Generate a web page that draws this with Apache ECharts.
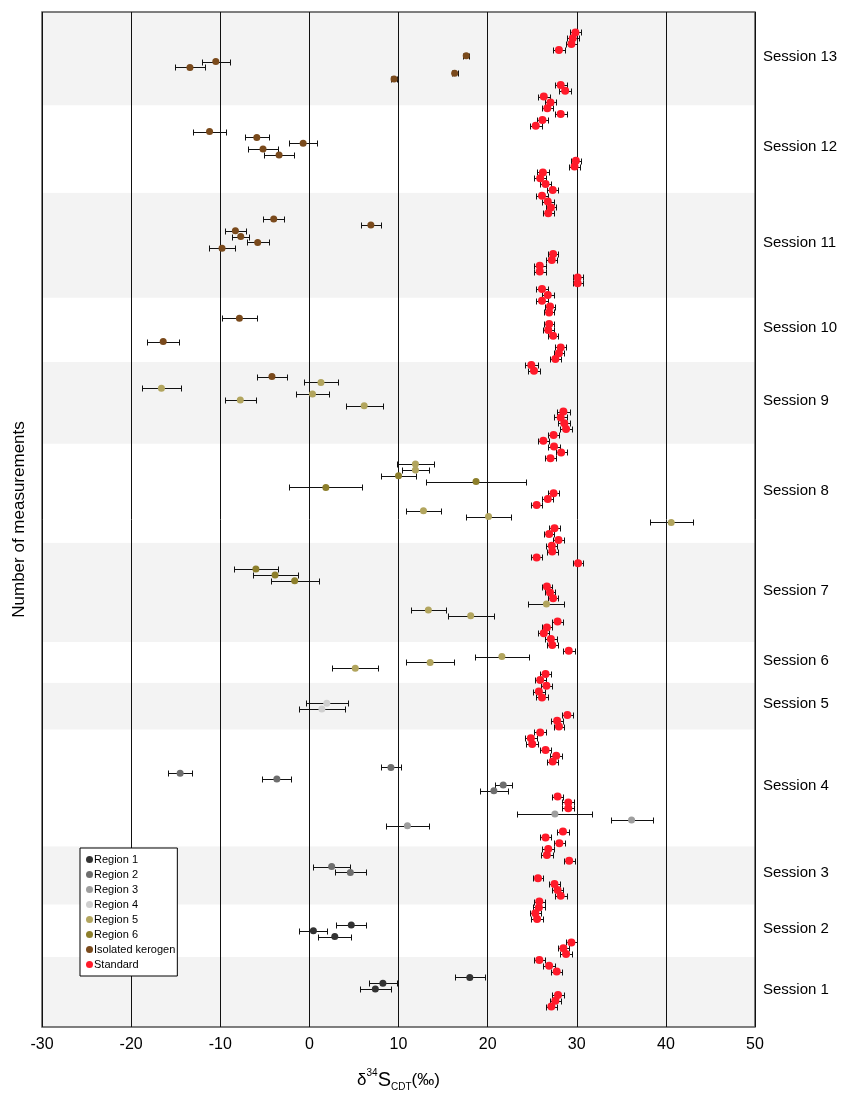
<!DOCTYPE html>
<html>
<head>
<meta charset="utf-8">
<script src="https://cdn.jsdelivr.net/npm/echarts@6/dist/echarts.min.js"></script>
<style>
  html, body { margin: 0; padding: 0; background: #fff; }
  #chart { width: 860px; height: 1097px; }
</style>
</head>
<body>
<div id="chart"></div>
<script>
// rows are measurement numbers, counted from the bottom of the plot
const sessionNames = ["Session 1", "Session 2", "Session 3", "Session 4", "Session 5", "Session 6",
  "Session 7", "Session 8", "Session 9", "Session 10", "Session 11", "Session 12", "Session 13"];
const sessionEdges = [-2.5, 9.5, 18.5, 28.5, 48.5, 56.5, 63.5, 80.5, 97.5, 111.5, 122.5, 140.5, 155.5, 171.5];

// [d34S, row, error]
const region1 = [[7.4, 4, 1.76], [8.25, 5, 1.57], [18.0, 6, 1.7], [2.85, 13, 1.85], [0.45, 14, 1.57], [4.7, 15, 1.69]];
const region2 = [[4.6, 24, 1.7], [2.5, 25, 2.06], [20.7, 38, 1.55], [21.75, 39, 0.94], [-3.65, 40, 1.63],
  [-14.5, 41, 1.31], [9.15, 42, 1.1]];
const region3 = [[11.0, 32, 2.38], [36.15, 33, 2.36], [27.55, 34, 4.2]];
const region4 = [[1.4, 52, 2.56], [1.95, 53, 2.36]];
const region5 = [[5.15, 59, 2.6], [13.55, 60, 2.66], [21.6, 61, 3.0], [18.1, 68, 2.57], [13.35, 69, 2.0],
  [26.6, 70, 2.02], [40.6, 84, 2.4], [20.1, 85, 2.53], [12.8, 86, 1.97], [11.9, 93, 1.52], [11.9, 94, 2.08],
  [6.15, 104, 2.06], [-7.75, 105, 1.72], [0.35, 106, 1.8], [-16.6, 107, 2.15], [1.3, 108, 1.95]];
const region6 = [[-1.65, 74, 2.7], [-3.85, 75, 2.53], [-6.0, 76, 2.47], [1.85, 90, 4.1], [18.7, 91, 5.65],
  [10.0, 92, 1.95]];
const kerogen = [[-4.2, 109, 1.67], [-16.4, 115, 1.78], [-7.85, 119, 1.93], [-9.8, 131, 1.42], [-5.8, 132, 1.25],
  [-7.7, 133, 0.97], [-8.3, 134, 1.14], [6.9, 135, 1.1], [-4.0, 136, 1.16], [-3.4, 147, 1.7], [-5.2, 148, 1.7],
  [-0.7, 149, 1.6], [-5.9, 150, 1.35], [-11.2, 151, 1.9], [9.5, 160, 0.35], [16.3, 161, 0.35],
  [-13.4, 162, 1.65], [-10.5, 163, 1.6], [17.6, 164, 0.35]];
const standard = [[27.15, 1, 0.65], [27.6, 2, 0.65], [27.9, 3, 0.65], [27.75, 7, 0.65], [26.9, 8, 0.65],
  [25.8, 9, 0.6], [28.8, 10, 0.65], [28.5, 11, 0.65], [29.4, 12, 0.65], [25.55, 16, 0.65], [25.35, 17, 0.65],
  [25.75, 18, 0.65], [25.8, 19, 0.65], [28.2, 20, 0.65], [27.85, 21, 0.65], [27.5, 22, 0.65], [25.65, 23, 0.6],
  [29.15, 26, 0.6], [26.65, 27, 0.65], [26.8, 28, 0.65], [28.05, 29, 0.65], [26.5, 30, 0.65], [28.45, 31, 0.65],
  [29.05, 35, 0.65], [29.05, 36, 0.65], [27.85, 37, 0.6], [27.3, 43, 0.65], [27.7, 44, 0.65], [26.5, 45, 0.65],
  [25.0, 46, 0.65], [24.85, 47, 0.65], [25.9, 48, 0.65], [28.0, 49, 0.6], [27.8, 50, 0.65], [28.95, 51, 0.65],
  [26.1, 54, 0.65], [25.75, 55, 0.65], [26.6, 56, 0.65], [25.9, 57, 0.6], [26.5, 58, 0.65],
  [29.1, 62, 0.65], [27.25, 63, 0.6], [27.1, 64, 0.65], [26.3, 65, 0.6], [26.65, 66, 0.6], [27.85, 67, 0.6],
  [27.35, 71, 0.6], [27.0, 72, 0.6], [26.65, 73, 0.6], [30.15, 77, 0.6], [25.5, 78, 0.6], [27.25, 79, 0.6],
  [27.2, 80, 0.6], [27.95, 81, 0.65], [26.9, 82, 0.6], [27.5, 83, 0.6], [25.5, 87, 0.6], [26.75, 88, 0.6],
  [27.4, 89, 0.6], [27.05, 95, 0.6], [28.25, 96, 0.6], [27.45, 97, 0.65], [26.25, 98, 0.65], [27.4, 99, 0.65],
  [28.8, 100, 0.65], [28.6, 101, 0.65], [28.2, 102, 0.7], [28.5, 103, 0.7], [25.2, 110, 0.7], [24.9, 111, 0.7],
  [27.6, 112, 0.6], [28.0, 113, 0.6], [28.2, 114, 0.6], [27.35, 116, 0.6], [26.8, 117, 0.6], [26.9, 118, 0.6],
  [26.9, 120, 0.6], [27.0, 121, 0.6], [26.1, 122, 0.65], [26.75, 123, 0.65], [26.1, 124, 0.65],
  [30.1, 125, 0.55], [30.1, 126, 0.55], [25.85, 127, 0.65], [25.85, 128, 0.65], [27.2, 129, 0.6],
  [27.35, 130, 0.6], [26.8, 137, 0.6], [27.1, 138, 0.6], [26.75, 139, 0.65], [26.1, 140, 0.65],
  [27.3, 141, 0.65], [26.5, 142, 0.65], [25.9, 143, 0.65], [26.2, 144, 0.65], [29.75, 145, 0.6],
  [29.9, 146, 0.6], [25.4, 152, 0.65], [26.15, 153, 0.65], [28.2, 154, 0.65], [26.7, 155, 0.6],
  [27.05, 156, 0.65], [26.3, 157, 0.65], [28.7, 158, 0.65], [28.2, 159, 0.65], [28.0, 165, 0.7],
  [29.4, 166, 0.65], [29.55, 167, 0.65], [29.85, 168, 0.65]];

const groups = [
  { name: "Region 1", data: region1, color: "#333333", size: 7 },
  { name: "Region 2", data: region2, color: "#6e6e6e", size: 7 },
  { name: "Region 3", data: region3, color: "#9e9e9e", size: 7 },
  { name: "Region 4", data: region4, color: "#cfcfcf", size: 7 },
  { name: "Region 5", data: region5, color: "#b2a55e", size: 7 },
  { name: "Region 6", data: region6, color: "#8d7f2b", size: 7 },
  { name: "Isolated kerogen", data: kerogen, color: "#7a4a1c", size: 7 },
  { name: "Standard", data: standard, color: "#ff1a2a", size: 8 },
];

const X_MIN = -30, X_MAX = 50;
const narrow = "'Liberation Sans Narrow', 'Arial Narrow', 'Liberation Sans', Arial, sans-serif";
const crisp = (v) => Math.round(v) + 0.5;

const chart = echarts.init(document.getElementById("chart"));

const bandSeries = {
  type: "custom",
  z: -1,
  silent: true,
  data: sessionNames.map((n, i) => [i, sessionEdges[i], sessionEdges[i + 1]]),
  encode: { x: 0, y: 1 },
  renderItem: (params, api) => {
    const i = api.value(0);
    const lo = api.value(1), hi = api.value(2);
    const p0 = api.coord([X_MIN, hi]);
    const p1 = api.coord([X_MAX, lo]);
    const mid = api.coord([X_MAX, (lo + hi) / 2]);
    return {
      type: "group",
      children: [
        {
          type: "rect",
          shape: { x: p0[0], y: p0[1], width: p1[0] - p0[0], height: p1[1] - p0[1] },
          style: { fill: i % 2 === 0 ? "#f3f3f3" : "#ffffff" },
        },
        {
          type: "text",
          x: mid[0] + 8,
          y: mid[1] - 2,
          style: {
            text: sessionNames[i], fill: "#000", fontSize: 15,
            fontFamily: "'Liberation Sans', Arial, sans-serif",
            verticalAlign: "middle", align: "left",
          },
        },
      ],
    };
  },
};

const errorSeries = {
  type: "custom",
  z: 2,
  silent: true,
  data: groups.flatMap((g) => g.data),
  encode: { x: 0, y: 1 },
  renderItem: (params, api) => {
    const x = api.value(0), y = api.value(1), e = api.value(2);
    const a = api.coord([x - e, y]);
    const b = api.coord([x + e, y]);
    const yy = crisp(a[1]);
    const xa = crisp(a[0]), xb = crisp(b[0]);
    const st = { stroke: "#111", lineWidth: 1 };
    return {
      type: "group",
      children: [
        { type: "line", shape: { x1: xa, y1: yy, x2: xb, y2: yy }, style: st },
        { type: "line", shape: { x1: xa, y1: yy - 3, x2: xa, y2: yy + 3 }, style: st },
        { type: "line", shape: { x1: xb, y1: yy - 3, x2: xb, y2: yy + 3 }, style: st },
      ],
    };
  },
};

const pointSeries = groups.map((g) => ({
  type: "scatter",
  name: g.name,
  z: 3,
  symbol: "circle",
  symbolSize: g.size,
  itemStyle: { color: g.color, opacity: 1 },
  data: g.data.map((d) => [d[0], d[1]]),
}));

chart.setOption({
  animation: false,
  backgroundColor: "#fff",
  grid: {
    left: 42, right: 105, top: 12, bottom: 69,
    show: true, borderColor: "#555", borderWidth: 1.5, backgroundColor: "transparent",
  },
  legend: {
    orient: "vertical",
    left: 80, top: 848,
    backgroundColor: "#fff",
    borderColor: "#000", borderWidth: 1, borderRadius: 0,
    padding: [5, 2, 5, 6],
    itemWidth: 7, itemHeight: 7, itemGap: 2,
    icon: "circle",
    textStyle: {
      fontSize: 11, color: "#000", lineHeight: 13,
      fontFamily: "'Liberation Sans', Arial, sans-serif",
      padding: [0, 0, 0, -4],
    },
    data: groups.map((g) => g.name),
  },
  xAxis: {
    type: "value",
    min: X_MIN, max: X_MAX, interval: 10,
    axisLine: { show: false },
    axisTick: { show: false },
    splitLine: { show: true, lineStyle: { color: "#111", width: 1 } },
    axisLabel: { fontSize: 16, color: "#000", margin: 10, fontFamily: narrow },
    name: "{d|δ}{sup|34}{s|S}{sub|CDT}{p|(‰)}",
    nameLocation: "middle",
    nameGap: 41,
    nameTextStyle: {
      rich: {
        d: { fontSize: 17, lineHeight: 24, verticalAlign: "middle", fontFamily: narrow, color: "#000" },
        sup: { fontSize: 10, lineHeight: 24, verticalAlign: "top", fontFamily: narrow, color: "#000" },
        s: { fontSize: 20, lineHeight: 24, verticalAlign: "middle", fontFamily: narrow, color: "#000" },
        sub: { fontSize: 10, lineHeight: 24, verticalAlign: "bottom", fontFamily: narrow, color: "#000" },
        p: { fontSize: 17, lineHeight: 24, verticalAlign: "middle", fontFamily: narrow, color: "#000" },
      },
    },
  },
  yAxis: {
    type: "value",
    min: sessionEdges[0], max: sessionEdges[sessionEdges.length - 1],
    axisLine: { show: false },
    axisTick: { show: false },
    axisLabel: { show: false },
    splitLine: { show: false },
    name: "Number of measurements",
    nameLocation: "middle",
    nameGap: 14,
    nameTextStyle: { fontSize: 17, color: "#000", fontFamily: "'Liberation Sans', Arial, sans-serif" },
  },
  series: [bandSeries, errorSeries, ...pointSeries],
});
</script>
</body>
</html>
